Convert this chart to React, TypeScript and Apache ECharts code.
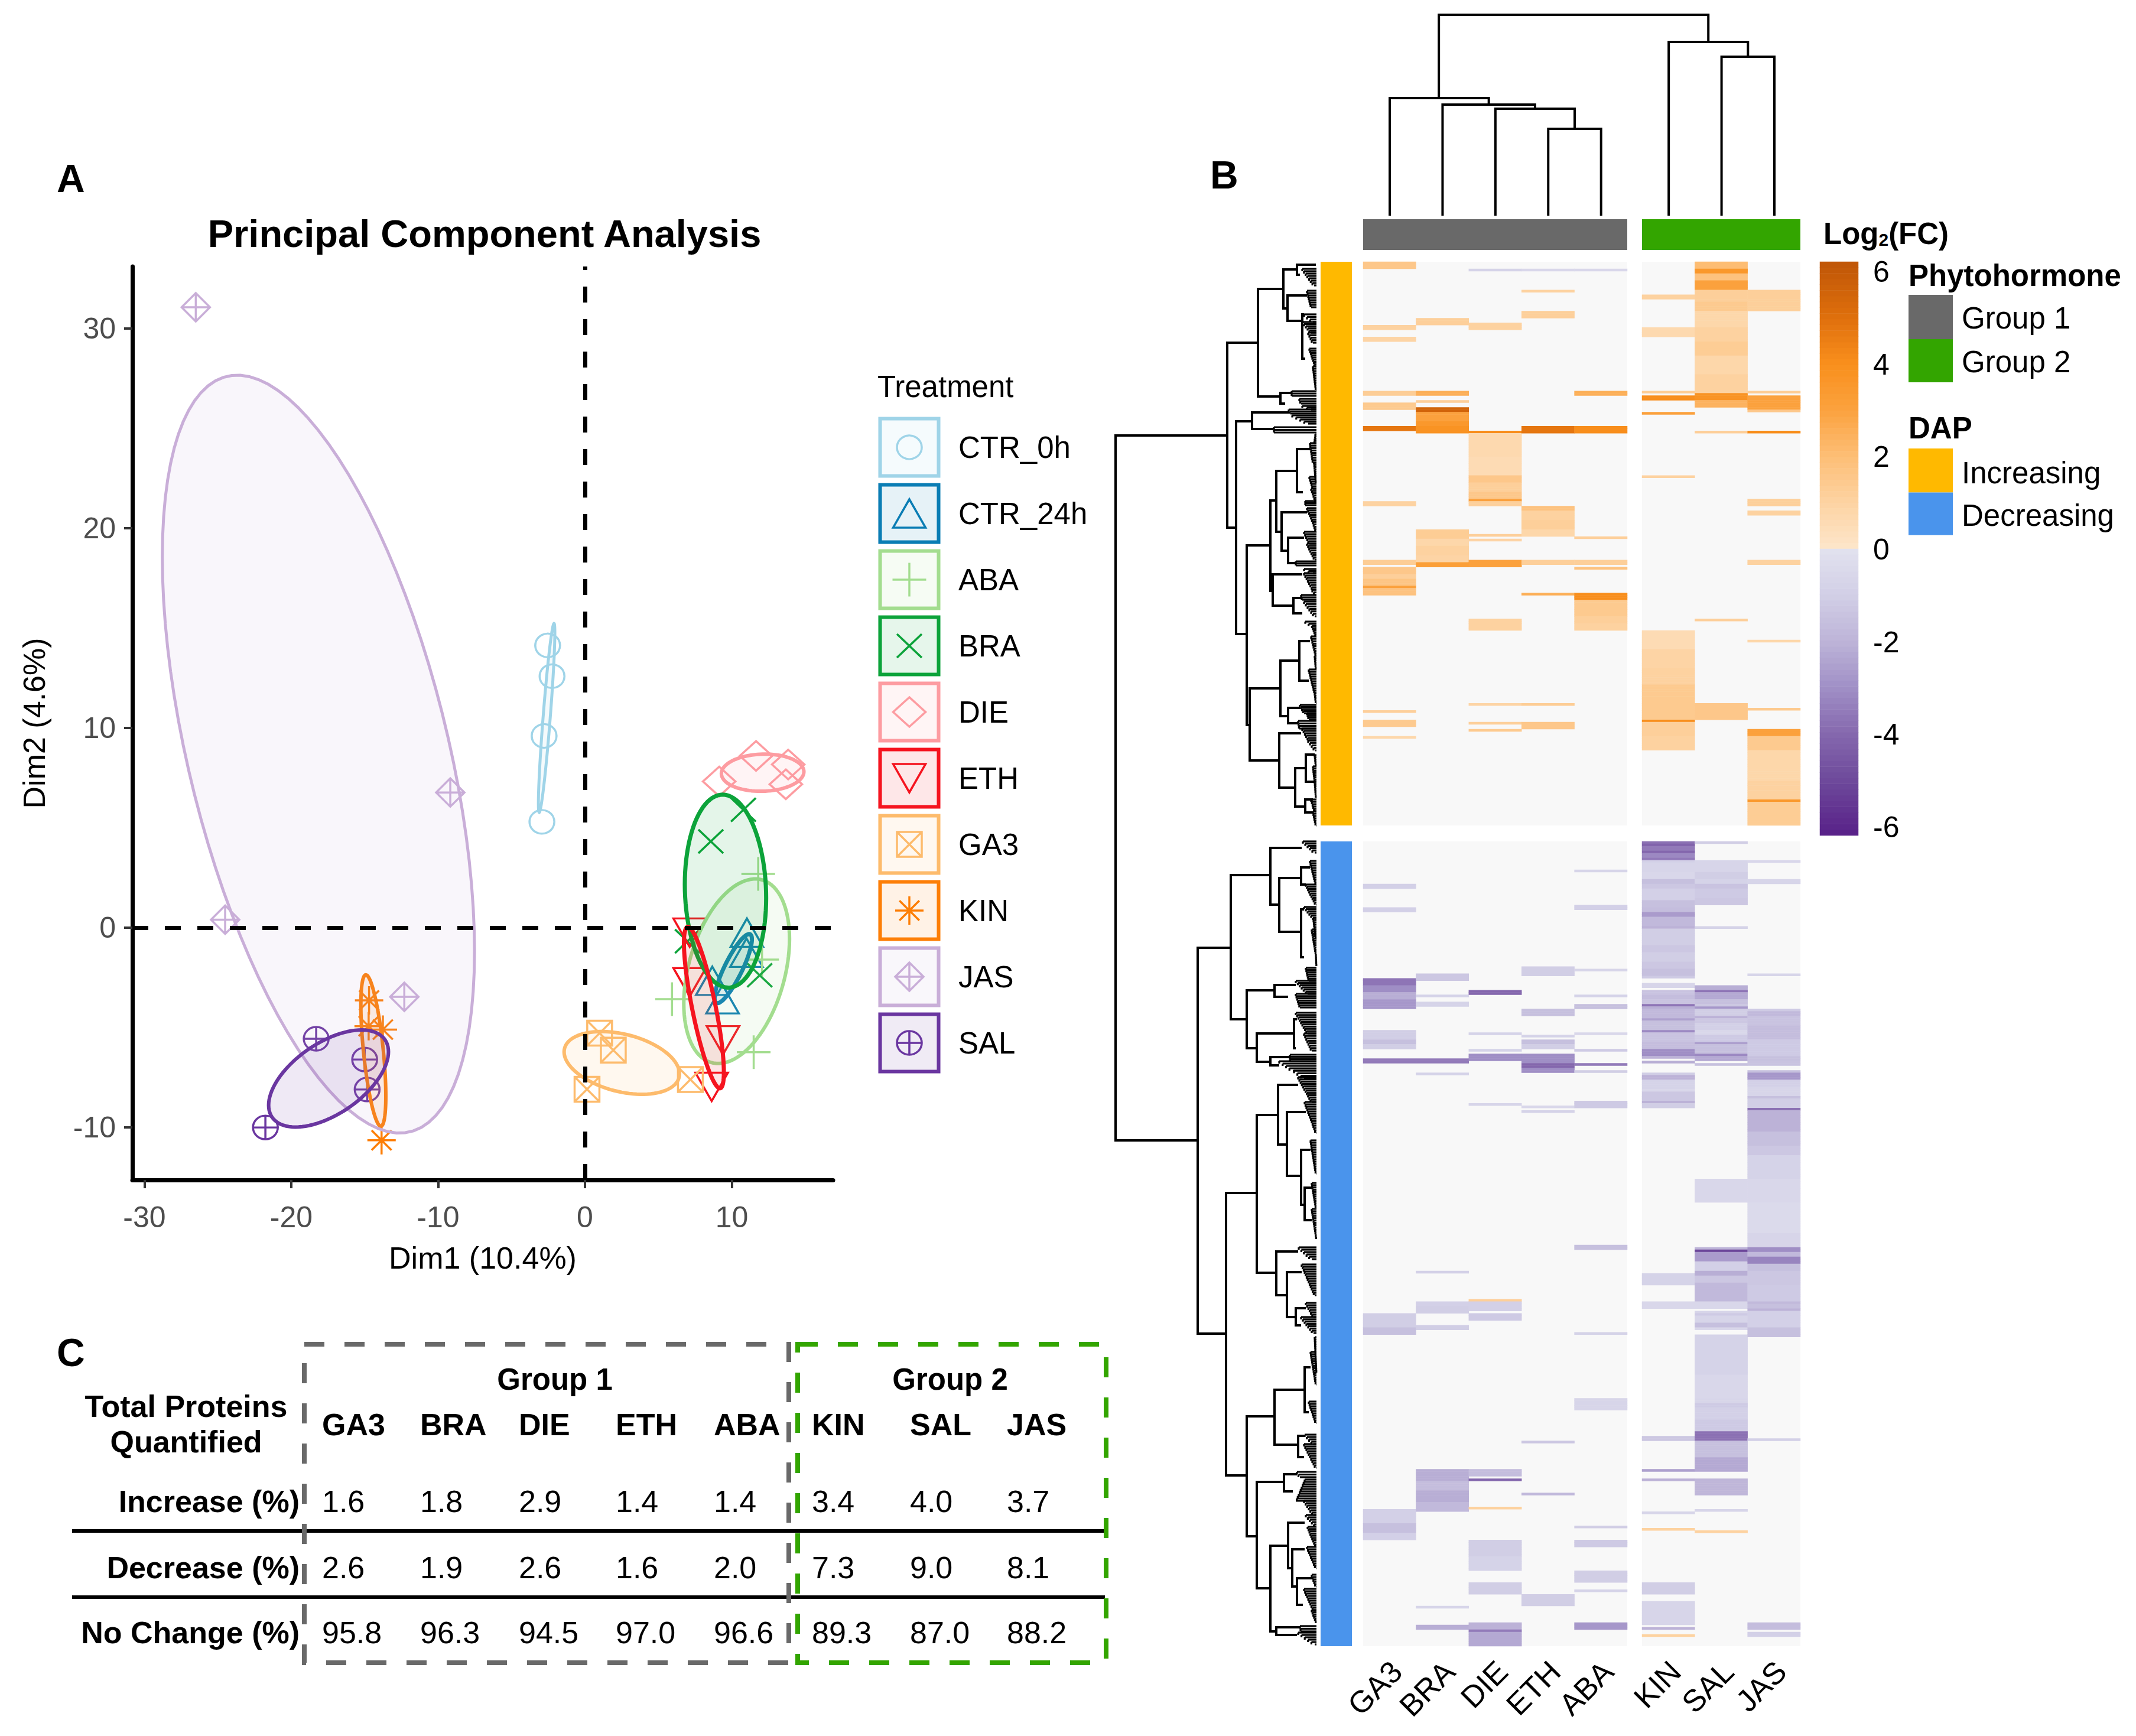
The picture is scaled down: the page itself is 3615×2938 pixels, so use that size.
import React, { useEffect, useRef } from "react";
import * as echarts from "echarts";

const FONT = "Liberation Sans";
const treatments = ["CTR_0h", "CTR_24h", "ABA", "BRA", "DIE", "ETH", "GA3", "KIN", "JAS", "SAL"];
const treatColors = ["#9fd4e8", "#0a7db4", "#a3dd8f", "#0ca33a", "#fd9ca1", "#f5141f", "#fdbb6c", "#fd7e06", "#c9aed8", "#6a36a0"];
const symbolPaths = [
  "circle",
  "path://M0,-50L50,50L-50,50Z",
  "path://M-50,0L50,0M0,-50L0,50",
  "path://M-50,-50L50,50M-50,50L50,-50",
  "path://M0,-50L50,0L0,50L-50,0Z",
  "path://M-50,-50L50,-50L0,50Z",
  "path://M-50,-50L50,-50L50,50L-50,50ZM-50,-50L50,50M-50,50L50,-50",
  "path://M-50,0L50,0M0,-50L0,50M-35,-35L35,35M-35,35L35,-35",
  "path://M0,-50L50,0L0,50L-50,0ZM-50,0L50,0M0,-50L0,50",
  "path://M-50,0A50,50 0 1 1 50,0A50,50 0 1 1 -50,0ZM-50,0L50,0M0,-50L0,50",
];
const symbolSizes = [[42, 40], [55, 48], [57, 57], [42, 40], [55, 50], [55, 48], [42, 42], [48, 48], [48, 48], [42, 40]];
const ellipseWidths = [5, 7, 6, 7, 6, 7, 6, 6, 5, 6];

// PCA points (Dim1, Dim2)
const ctr0Points = [[-2.54, 14.13], [-2.24, 12.59], [-2.78, 9.6], [-2.93, 5.3]];
const ctr24Points = [[11.03, -0.25], [11, -1.25], [8.67, -2.66], [9.37, -3.58]];
const abaPoints = [[11.8, 2.69], [12.06, -1.6], [5.93, -3.58], [11.49, -6.23]];
const braPoints = [[10.79, 5.9], [8.57, 4.32], [6.98, -0.68], [11.9, -2.38]];
const diePoints = [[11.65, 8.6], [13.84, 8.17], [13.68, 7.18], [9.14, 7.32]];
const ethPoints = [[7.13, -0.25], [7.13, -2.73], [9.4, -5.64], [8.63, -7.97]];
const ga3Points = [[1.0, -5.28], [1.93, -6.13], [0.14, -8.09], [7.18, -7.6]];
const kinPoints = [[-14.7, -3.64], [-14.73, -4.93], [-13.76, -5.1], [-13.85, -10.64]];
const jasPoints = [[-26.5, 31.06], [-9.17, 6.77], [-24.5, 0.4], [-12.3, -3.46]];
const salPoints = [[-18.3, -5.56], [-15, -6.6], [-14.83, -8.1], [-21.76, -10.0]];
const allPoints = [ctr0Points, ctr24Points, abaPoints, braPoints, diePoints, ethPoints, ga3Points, kinPoints, jasPoints, salPoints];
// confidence ellipses: centre x, centre y, half width, half height, correlation
const ellipses = [
  [-2.61, 10.5, 0.56, 4.73, 0.9],
  [10.1, -2.05, 1.27, 1.73, 0.85],
  [10.33, -2.18, 3.6, 4.62, 0.35],
  [9.57, 1.83, 2.77, 4.83, -0.07],
  [12.1, 7.76, 2.81, 0.93, 0.05],
  [8.1, -4.0, 1.36, 4.04, -0.8],
  [2.51, -6.77, 3.93, 1.57, -0.35],
  [-14.41, -6.15, 0.85, 3.79, -0.6],
  [-18.15, 8.69, 10.63, 18.97, -0.52],
  [-17.46, -7.55, 4.08, 2.43, 0.55],
];

// Heatmap runs: first row, last row, log2 fold change
const groupOneCols = ["GA3", "BRA", "DIE", "ETH", "ABA"];
const groupTwoCols = ["KIN", "SAL", "JAS"];
const ga3Up = [[0,2,1.5],[27,28,1],[32,33,.9],[55,56,1.3],[60,62,1.4],[70,71,4.8],[102,103,1],[127,128,1.3],[130,132,1.5],[133,134,1.2],[135,137,1.7],[138,138,3],[139,141,1.8],[191,191,1.2],[195,197,1.4],[202,202,.8]];
const braUp = [[24,26,1.2],[55,56,2.5],[59,59,1.2],[62,63,5.5],[64,67,3],[68,69,3.5],[70,72,3.8],[114,117,1.3],[118,120,.8],[121,124,1],[125,127,.9],[128,129,3.2]];
const dieUp = [[3,3,-.8],[26,28,1],[72,72,4],[73,82,.7],[83,90,.6],[91,93,1.6],[94,97,1.2],[98,100,1.5],[101,101,3],[102,103,1.2],[116,116,1.2],[118,118,.9],[127,129,3],[152,156,1.1],[188,188,.9],[196,196,1.2],[199,199,1.4]];
const ethUp = [[3,3,-.5],[12,12,1],[21,23,1.2],[70,72,4.8],[104,105,1.8],[106,109,1],[110,113,1.2],[114,116,.8],[127,128,1.2],[141,141,2.5],[188,188,1.3],[196,198,1.6]];
const abaUp = [[3,3,-.5],[55,56,2.5],[70,72,4],[117,117,1.2],[127,128,1.2],[130,130,1.8],[141,143,4],[144,150,1.4],[151,153,1.2],[154,156,1],];
const kinUp = [[14,15,1],[28,31,.7],[55,55,1.3],[57,58,4],[64,64,3],[91,91,1],[157,164,.6],[165,172,.9],[173,179,1.1],[180,194,1.4],[195,195,4],[196,201,1.2],[202,207,1.1]];
const salUp = [[0,3,2],[3,4,3.5],[5,7,1.8],[8,11,3],[12,16,1.2],[17,20,1.4],[21,27,.8],[28,33,1],[34,39,1.3],[40,47,.8],[48,55,1],[56,58,3.8],[59,61,2.4],[72,72,1.2],[152,152,1.2],[188,194,1.6]];
const jasUp = [[12,20,1.2],[55,55,1.3],[57,62,3],[63,63,1.5],[72,72,4],[101,103,1.2],[106,107,1],[127,128,1],[161,161,.8],[190,190,1.4],[199,201,3],[202,207,1.4],[208,220,.8],[221,228,1],[229,229,3.5],[230,239,1.3]];
const ga3Down = [[18,19,-.9],[28,29,-.9],[58,60,-3.7],[61,63,-3],[64,66,-2.2],[67,70,-2.8],[80,83,-1.1],[84,85,-1.6],[86,87,-1.1],[92,93,-3.5],[200,205,-1],[206,208,-1.5],[283,288,-.9],[289,292,-1.5],[293,295,-.9]];
const braDown = [[56,58,-1.3],[65,65,-.8],[68,69,-.8],[92,93,-3.5],[98,98,-.8],[182,182,-.9],[195,196,-.9],[197,199,-1.1],[205,206,-1.1],[266,270,-2.2],[271,274,-1.7],[275,279,-2.2],[280,283,-1.8],[324,324,-.7],[332,333,-2.2]];
const dieDown = [[63,64,-4],[81,81,-.8],[88,88,-.8],[90,92,-3],[111,111,-.7],[194,194,1.2],[195,198,-.9],[200,202,-1.2],[266,268,-1.7],[270,270,-4],[282,282,1.1],[296,302,-1],[303,308,-.8],[314,318,-1.1],[331,333,-2],[334,334,-3.5],[335,340,-2.3]];
const ethDown = [[53,56,-1],[71,73,-1.5],[82,82,-.8],[84,85,-1.5],[86,87,-1],[90,93,-3],[94,95,-4],[96,97,-3],[112,112,-.6],[114,114,-.8],[254,254,-1.3],[276,276,-1.8],[319,323,-1]];
const abaDown = [[12,12,-.7],[27,28,-.9],[54,54,-.7],[65,65,-.8],[69,70,-1.6],[81,81,-.6],[88,88,-1.2],[94,94,-3.5],[97,97,-1],[110,112,-1.2],[171,172,-1.6],[208,208,-.8],[236,240,-.7],[290,290,-1],[296,298,-1.2],[309,313,-1.1],[317,317,-.8],[331,333,-2.8]];
const kinDown = [[0,0,-3.8],[1,1,-4.2],[2,3,-3.5],[4,4,-4],[5,6,-3.2],[7,7,-3.5],[8,8,-.9],[9,12,-.7],[13,15,-.5],[16,17,-1.6],[18,19,-1.3],[20,24,-.9],[25,27,-1.5],[28,29,-1.7],[30,31,-2.7],[32,35,-1.8],[36,36,-2],[37,40,-1],[41,43,-1.1],[44,46,-1.3],[47,50,-1.1],[51,53,-1.3],[54,56,-1.6],[57,57,-1.2],[60,61,-.7],[63,64,-1.4],[65,66,-1.7],[67,68,-1.4],[69,69,-3.6],[70,70,-2.2],[71,74,-1.8],[75,75,-2.6],[76,79,-1.6],[80,80,-3.2],[81,84,-1.4],[85,87,-1.7],[88,90,-3],[91,91,-2],[93,93,-2.2],[98,98,-1],[99,100,-2],[101,104,-.8],[105,105,-.6],[106,109,-1.3],[110,110,-2],[111,112,-1],[183,187,-.8],[195,197,-.6],[252,253,-1.3],[266,266,-2.5],[270,270,-2],[284,284,-.7],[291,291,1.1],[314,318,-1],[322,331,-.7],[333,333,-2],[336,336,1]];
const salDown = [[0,0,-1],[8,12,-.7],[13,15,-1.1],[16,17,-.8],[18,19,-1.4],[20,23,-1.2],[24,26,-1.3],[36,36,-.8],[61,62,-2.2],[63,63,-3.6],[64,66,-2.3],[67,68,-1.5],[69,69,-1.3],[70,70,-2.8],[71,73,-1],[74,74,-2],[75,76,-1.3],[77,79,-.9],[80,81,-.6],[82,84,-1.2],[85,85,-2.5],[86,89,-1.6],[90,90,-3.2],[91,92,-2.3],[94,94,-1.5],[143,152,-.55],[172,172,-2],[173,173,-5.2],[174,177,-2.7],[178,181,-.9],[182,183,-2.2],[184,186,-1.3],[187,194,-1.8],[195,197,-.6],[199,199,-.7],[200,200,-1.2],[201,203,-.7],[204,205,-1.5],[206,206,-.6],[209,225,-.8],[226,235,-.6],[236,237,-.7],[238,239,-1.2],[240,244,-.9],[245,249,-1.2],[250,253,-3.8],[254,260,-1.6],[261,266,-2.3],[270,276,-1.9],[283,283,-.7],[292,292,1]];
const jasDown = [[8,8,-.6],[16,17,-.7],[56,56,-.7],[71,71,-1.2],[72,73,-1.8],[74,77,-1.4],[78,83,-1.7],[84,90,-1.2],[91,92,-1.5],[93,94,-1.4],[97,97,-1.6],[98,100,-2.8],[101,103,-.9],[104,107,-.7],[108,108,-1.6],[109,112,-1.1],[113,113,-3.8],[114,122,-2],[123,128,-1.5],[129,132,-1.3],[133,142,-.8],[143,152,-.6],[153,165,-.45],[166,171,-.7],[172,173,-3],[174,175,-1.8],[176,178,-3.3],[179,181,-1.6],[182,187,-1.3],[188,194,-1.2],[195,195,-1.8],[196,197,-1.5],[198,198,-2],[199,205,-.9],[206,209,-1.6],[253,253,-.9],[331,333,-1.7],[335,336,-.9]];
const TOP_ROW_COUNT = 240;
const BOTTOM_ROW_COUNT = 341;

// Colour scale stops: value, colour
const positiveStops: [number, string][] = [[0, "#fde6cb"], [1, "#fdd3a2"], [2, "#fdbe76"], [3, "#fba23e"], [4, "#f98f1c"], [5, "#df6f0c"], [6.2, "#bf5607"]];
const negativeStops: [number, string][] = [[0, "#e2e2ee"], [1, "#d2cfe6"], [2, "#bdb4d8"], [3, "#a08fc6"], [4, "#8568ae"], [5, "#6e4a9b"], [6.2, "#582088"]];

// Column dendrogram: x1, x2, merge height, left child height, right child height
const colMerges = [
  [3, 4, 147, 0, 0], [2, 3.5, 181, 0, 147], [1, 2.75, 188, 0, 181], [0, 1.875, 199, 0, 188],
  [6.28, 7.28, 269, 0, 0], [5.28, 6.78, 294, 0, 269], [0.93, 6.03, 340, 199, 294],
];
// Row dendrogram branches: height, position 1, position 2, child height 1, child height 2
const rowBranches = [
  [340,294,1487,152,203],[151,137,450,101,136],[99,46,228,56,61],[56,13,79,33,49],[33,5,22,1,28],[49,57,100,16,24],[24,89,164,21,19],[61,222,240,43,53],
  [136,270,630,109,118],[109,255,283,46,73],[118,480,784,78,113],[78,404,557,68,74],[68,354,457,33,59],[33,317,390,11,23],[59,424,489,16,48],[48,467,510,21,34],
  [74,529,582,24,39],[39,569,595,26,24],[113,722,844,63,63],[61,675,769,29,48],[29,642,709,11,13],[48,755,781,28,31],[63,798,890,26,36],[36,857,922,18,19],[18,834,880,3,3],[19,910,932,6,6],
  [201,1161,1814,146,155],[145,1038,1282,78,118],[78,992,1088,25,63],[63,1043,1134,26,28],[26,1025,1054,11,18],[26,1096,1177,21,21],[118,1233,1331,71,101],[71,1224,1244,35,48],
  [101,1306,1354,38,78],[78,1346,1360,45,63],[38,1282,1331,33,35],[153,1576,2054,101,118],[101,1444,1711,65,68],[65,1393,1494,31,50],[50,1439,1547,18,26],[26,1503,1596,10,20],[20,1567,1622,6,8],
  [68,1675,1749,31,50],[50,1710,1786,25,35],[35,1771,1800,18,26],[118,1954,2157,71,101],[71,1909,2002,20,31],[20,1871,1947,10,13],[31,1987,2023,20,21],
  [101,2065,2245,55,78],[55,2052,2081,33,40],[78,2173,2318,48,68],[48,2134,2211,20,41],[41,2179,2242,20,33],[33,2228,2273,6,23],[68,2311,2324,28,33],
];
// Leaf clades: first position, last position, height at first, height at last
const rowClades = [
  [12,40,24,4],[49,77,16,9],[89,102,21,6],[102,120,24,9],[120,137,14,6],[147,177,12,2],[177,217,6,1],[219,227,42,42],[232,240,29,26],[244,250,24,9],[250,257,47,44],[260,274,41,14],[280,289,72,72],
  [292,307,2,4],[307,340,11,6],[340,374,4,1],[364,384,12,6],[384,407,9,1],[405,412,19,19],[417,440,16,6],[440,457,6,1],[457,477,21,12],[477,504,16,3],[507,514,35,35],[520,527,21,6],[527,555,21,6],
  [555,564,7,2],[564,572,26,24],[575,600,21,3],[609,620,19,2],[620,634,6,1],[634,667,9,1],[667,690,3,1],[690,730,13,3],[730,747,3,1],[750,764,28,21],[764,774,16,13],[777,790,31,29],[790,810,24,13],
  [810,827,14,2],[835,854,3,1],[854,880,6,3],[880,907,3,1],[910,930,9,3],[930,954,6,1],
  [981,1000,23,3],[1014,1054,11,1],[1054,1088,18,1],[1092,1114,21,3],[1114,1146,5,1],[1130,1172,8,1],[1172,1192,1,0],[1195,1217,18,13],[1217,1239,35,15],[1239,1262,35,28],[1271,1306,35,15],[1306,1335,21,8],
  [1342,1353,45,45],[1353,1369,63,40],[1369,1382,38,21],[1380,1422,31,8],[1422,1454,20,8],[1454,1474,8,1],[1487,1543,10,1],[1559,1601,8,1],[1603,1654,8,0],[1668,1688,30,8],[1697,1749,25,3],[1762,1786,18,5],
  [1786,1813,26,5],[1820,1880,3,0],[1845,1900,10,1],[1929,1965,13,1],[1985,2001,20,5],[2001,2041,21,1],[2048,2057,33,28],[2061,2097,20,35],[2097,2121,21,5],[2121,2141,18,1],[2141,2175,15,1],[2175,2211,16,1],
  [2222,2242,8,1],[2246,2282,21,5],[2282,2304,8,0],[2309,2318,28,26],[2320,2340,31,3],
];

// Table C
const tableCols = ["GA3", "BRA", "DIE", "ETH", "ABA", "KIN", "SAL", "JAS"];
const tableRowNames = ["Increase (%)", "Decrease (%)", "No Change (%)"];
const increaseRow = ["1.6", "1.8", "2.9", "1.4", "1.4", "3.4", "4.0", "3.7"];
const decreaseRow = ["2.6", "1.9", "2.6", "1.6", "2.0", "7.3", "9.0", "8.1"];
const noChangeRow = ["95.8", "96.3", "94.5", "97.0", "96.6", "89.3", "87.0", "88.2"];

function hexToRgb(h: string) {
  return [1, 3, 5].map((i) => parseInt(h.slice(i, i + 2), 16));
}
function colorOf(v: number) {
  const stops = v >= 0 ? positiveStops : negativeStops;
  const a = Math.abs(v);
  for (let i = 1; i < stops.length; i++) {
    if (a <= stops[i][0]) {
      const f = (a - stops[i - 1][0]) / (stops[i][0] - stops[i - 1][0]);
      const p = hexToRgb(stops[i - 1][1]);
      const q = hexToRgb(stops[i][1]);
      return `rgb(${p.map((c, k) => Math.round(c + (q[k] - c) * f)).join(",")})`;
    }
  }
  return stops[stops.length - 1][1];
}
function cells(columns: number[][][]) {
  const out: number[][] = [];
  columns.forEach((runs, c) => runs.forEach(([a, b, v]) => {
    for (let r = a; r <= b; r++) out.push([c, r, v]);
  }));
  return out;
}
function alpha(hex: string, a: number) {
  const [r, g, b] = hexToRgb(hex);
  return `rgba(${r},${g},${b},${a})`;
}
function label(x: number, y: number, text: string, size = 50, weight: any = "normal", align = "left") {
  return {
    type: "text", x, y, silent: true,
    style: { text, fontSize: size, fontFamily: FONT, fontWeight: weight, fill: "#000", textAlign: align, textVerticalAlign: "middle", align, verticalAlign: "middle" },
  };
}
function rect(x: number, y: number, w: number, h: number, fill: string) {
  return { type: "rect", silent: true, shape: { x, y, width: w, height: h }, style: { fill } };
}

function buildOption() {
  const LEVELS = 100;
  const levelValues = Array.from({ length: LEVELS }, (_, i) => -6.2 + ((i + 0.5) * 12.4) / LEVELS);
  const pieces = levelValues.map((v) => ({ min: v - 6.2 / LEVELS, max: v + 6.2 / LEVELS, color: colorOf(v) }));

  const hiddenCat = (gridIndex: number, data: any[], inverse = false) => ({ type: "category", gridIndex, data, show: false, inverse });
  const topRows = Array.from({ length: TOP_ROW_COUNT }, (_, i) => i);
  const botRows = Array.from({ length: BOTTOM_ROW_COUNT }, (_, i) => i);
  const bottomLabelled = (gridIndex: number, data: string[]) => ({
    type: "category", gridIndex, data,
    axisLine: { show: false }, axisTick: { show: false },
    axisLabel: { interval: 0, rotate: 45, fontSize: 52, fontFamily: FONT, color: "#000", margin: 34 },
  });
  const blank = (gridIndex: number, min: number, max: number, inverse = false) => ({ type: "value", gridIndex, min, max, inverse, show: false });

  const grid = [
    { left: 224, width: 1186, top: 451, height: 1546 },
    { left: 1489, width: 100, top: 701, height: 1120 },
    { left: 2307, width: 447, top: 443, height: 954, show: true, backgroundColor: "#f8f8f8", borderWidth: 0 },
    { left: 2779, width: 268, top: 443, height: 954, show: true, backgroundColor: "#f8f8f8", borderWidth: 0 },
    { left: 2307, width: 447, top: 1424, height: 1362, show: true, backgroundColor: "#f8f8f8", borderWidth: 0 },
    { left: 2779, width: 268, top: 1424, height: 1362, show: true, backgroundColor: "#f8f8f8", borderWidth: 0 },
    { left: 3080, width: 65, top: 443, height: 971 },
    { left: 3080, width: 65, top: 460, height: 940 },
    { left: 2352, width: 651, top: 25, height: 340 },
    { left: 1880, width: 348, top: 443, height: 2343 },
    // label strips below the heat map
    { left: 2319, width: 447, top: 2785, height: 1 },
    { left: 2791, width: 268, top: 2785, height: 1 },
  ];
  const xAxis = [
    {
      type: "value", gridIndex: 0, min: -30.82, max: 16.9, splitLine: { show: false },
      axisLine: { onZero: false, lineStyle: { color: "#000", width: 7 } },
      axisTick: { length: 14, lineStyle: { color: "#333", width: 4 }, customValues: [-30, -20, -10, 0, 10] },
      axisLabel: { fontSize: 50, fontFamily: FONT, color: "#4d4d4d", margin: 38, customValues: [-30, -20, -10, 0, 10] },
      name: "Dim1 (10.4%)", nameLocation: "middle", nameGap: 106, nameTextStyle: { fontSize: 52, fontFamily: FONT, color: "#000" },
    },
    blank(1, 0, 1),
    hiddenCat(2, groupOneCols), hiddenCat(3, groupTwoCols),
    hiddenCat(4, groupOneCols), hiddenCat(5, groupTwoCols),
    hiddenCat(6, ["scale"]),
    blank(7, 0, 1),
    blank(8, 0, 7.28),
    blank(9, 0, 348, true),
    bottomLabelled(10, groupOneCols), bottomLabelled(11, groupTwoCols),
  ];
  const yAxis = [
    {
      type: "value", gridIndex: 0, min: -12.63, max: 33.1, splitLine: { show: false },
      axisLine: { onZero: false, lineStyle: { color: "#000", width: 7 } },
      axisTick: { length: 14, lineStyle: { color: "#333", width: 4 }, customValues: [-10, 0, 10, 20, 30] },
      axisLabel: { fontSize: 50, fontFamily: FONT, color: "#4d4d4d", margin: 28, customValues: [-10, 0, 10, 20, 30] },
      name: "Dim2 (4.6%)", nameLocation: "middle", nameGap: 140, nameTextStyle: { fontSize: 52, fontFamily: FONT, color: "#000" },
    },
    {
      type: "category", gridIndex: 1, data: treatments, inverse: true, position: "right",
      axisLine: { show: false }, axisTick: { show: false },
      axisLabel: { fontSize: 51, fontFamily: FONT, color: "#000", margin: 33 },
    },
    hiddenCat(2, topRows, true), hiddenCat(3, topRows, true),
    hiddenCat(4, botRows, true), hiddenCat(5, botRows, true),
    hiddenCat(6, levelValues),
    {
      type: "value", gridIndex: 7, min: -6, max: 6, interval: 2, position: "right",
      splitLine: { show: false }, axisLine: { show: false }, axisTick: { show: false },
      axisLabel: { fontSize: 50, fontFamily: FONT, color: "#000", margin: 25 },
    },
    blank(8, 0, 340),
    blank(9, 0, 2343, true),
    blank(10, 0, 1), blank(11, 0, 1),
  ];

  const series: any[] = [];
  series.push({
    type: "line", name: "zero", xAxisIndex: 0, yAxisIndex: 0, data: [], silent: true,
    markLine: {
      silent: true, symbol: "none", label: { show: false },
      lineStyle: { type: [27, 28], color: "#000", width: 7 },
      data: [{ xAxis: 0 }, { yAxis: 0 }],
    },
  });
  treatments.forEach((name, i) => {
    series.push({
      type: "scatter", xAxisIndex: 1, yAxisIndex: 1, symbol: "rect", symbolSize: [99, 97], silent: true, z: 1,
      itemStyle: { color: alpha(treatColors[i], 0.1), borderColor: treatColors[i], borderWidth: 6, opacity: 1 },
      data: [[0.5, name]],
    });
    series.push({
      type: "scatter", name, xAxisIndex: 1, yAxisIndex: 1, symbol: symbolPaths[i], symbolSize: symbolSizes[i], silent: true, z: 2,
      itemStyle: { color: "rgba(0,0,0,0)", borderColor: treatColors[i], borderWidth: 3.5, opacity: 1 },
      data: [[0.5, name]],
    });
  });
  treatments.forEach((name, i) => {
    series.push({
      type: "scatter", name, xAxisIndex: 0, yAxisIndex: 0, symbol: symbolPaths[i], symbolSize: symbolSizes[i], silent: true, z: 3,
      itemStyle: { color: "rgba(0,0,0,0)", borderColor: treatColors[i], borderWidth: 3.5, opacity: 1 },
      data: allPoints[i],
    });
  });
  treatments.forEach((name, i) => {
    series.push({
      type: "custom", name: name + " ellipse", xAxisIndex: 0, yAxisIndex: 0, silent: true, z: 4,
      data: [ellipses[i]], encode: { x: 0, y: 1 },
      renderItem: (_: any, api: any) => {
        const [cx, cy, hw, hh, r] = [0, 1, 2, 3, 4].map((k) => api.value(k));
        const points: number[][] = [];
        for (let t = 0; t < 96; t++) {
          const a = (t / 96) * Math.PI * 2;
          points.push(api.coord([cx + hw * Math.cos(a), cy + hh * (r * Math.cos(a) + Math.sqrt(1 - r * r) * Math.sin(a))]));
        }
        return { type: "polygon", shape: { points }, style: { fill: alpha(treatColors[i], 0.11), stroke: treatColors[i], lineWidth: ellipseWidths[i] } };
      },
    });
  });
  const heatSeriesIndex: number[] = [];
  const addHeat = (idx: number, data: number[][], name: string) => {
    heatSeriesIndex.push(series.length);
    series.push({ type: "heatmap", name, xAxisIndex: idx, yAxisIndex: idx, data, silent: true, progressive: 0, emphasis: { disabled: true } });
  };
  addHeat(2, cells([ga3Up, braUp, dieUp, ethUp, abaUp]), "Increasing, Group 1");
  addHeat(3, cells([kinUp, salUp, jasUp]), "Increasing, Group 2");
  addHeat(4, cells([ga3Down, braDown, dieDown, ethDown, abaDown]), "Decreasing, Group 1");
  addHeat(5, cells([kinDown, salDown, jasDown]), "Decreasing, Group 2");
  addHeat(6, levelValues.map((v, i) => [0, i, v]), "Log2(FC) scale");
  series.push({ type: "line", xAxisIndex: 7, yAxisIndex: 7, data: [], silent: true });
  series.push({
    type: "custom", name: "column dendrogram", xAxisIndex: 8, yAxisIndex: 8, silent: true, data: colMerges, encode: { x: 0, y: 2 },
    renderItem: (_: any, api: any) => {
      const [a, b, h, ha, hb] = [0, 1, 2, 3, 4].map((k) => api.value(k));
      return { type: "polyline", shape: { points: [api.coord([a, ha]), api.coord([a, h]), api.coord([b, h]), api.coord([b, hb])] }, style: { fill: "none", stroke: "#000", lineWidth: 4 } };
    },
  });
  series.push({
    type: "custom", name: "row dendrogram", xAxisIndex: 9, yAxisIndex: 9, silent: true, data: rowBranches, encode: { x: 0, y: 1 },
    renderItem: (_: any, api: any) => {
      const [h, a, b, ha, hb] = [0, 1, 2, 3, 4].map((k) => api.value(k));
      return { type: "polyline", shape: { points: [api.coord([ha, a]), api.coord([h, a]), api.coord([h, b]), api.coord([hb, b])] }, style: { fill: "none", stroke: "#000", lineWidth: 4 } };
    },
  });
  series.push({
    type: "custom", name: "row dendrogram leaves", xAxisIndex: 9, yAxisIndex: 9, silent: true, data: rowClades, encode: { x: 2, y: 0 },
    renderItem: (_: any, api: any) => {
      const [a, b, ha, hb] = [0, 1, 2, 3].map((k) => api.value(k));
      const children: any[] = [];
      const n = Math.max(1, Math.round((b - a) / 4));
      const endX = api.coord([0, a])[0];
      for (let j = 0; j <= n; j++) {
        const p = api.coord([ha + ((hb - ha) * j) / n, a + ((b - a) * j) / n]);
        children.push({ type: "line", shape: { x1: p[0], y1: p[1], x2: endX, y2: p[1] }, style: { stroke: "#000", lineWidth: 3.2 } });
        if (j < n) {
          const q = api.coord([ha + ((hb - ha) * j) / n, a + ((b - a) * (j + 1)) / n]);
          children.push({ type: "line", shape: { x1: p[0], y1: p[1], x2: q[0], y2: q[1] }, style: { stroke: "#000", lineWidth: 3.2 } });
        }
      }
      return { type: "group", children };
    },
  });

  const G1 = "#696969";
  const G2 = "#33a500";
  const YEL = "#ffb900";
  const BLU = "#4a94ec";
  const tableX = [545, 711, 878, 1042, 1208, 1374, 1540, 1704];
  const rowY = [2541, 2653, 2763];
  const graphics: any[] = [
    label(96, 302, "A", 66, "bold"),
    label(2048, 296, "B", 66, "bold"),
    label(96, 2289, "C", 66, "bold"),
    rect(2235, 443, 53, 954, YEL),
    rect(2235, 1424, 53, 1362, BLU),
    rect(2307, 371, 447, 52, G1),
    rect(2779, 371, 268, 52, G2),
    {
      type: "text", x: 3086, y: 395, silent: true,
      style: {
        text: "{a|Log}{b|2}{a|(FC)}", fontFamily: FONT, fontWeight: "bold", fontSize: 51, fill: "#000", textVerticalAlign: "middle", verticalAlign: "middle",
        rich: { a: { fontSize: 51, fontFamily: FONT, fontWeight: "bold", fill: "#000" }, b: { fontSize: 30, fontFamily: FONT, fontWeight: "bold", fill: "#000", padding: [20, 0, 0, 0] } },
      },
    },
    label(3230, 466, "Phytohormone", 51, "bold"),
    rect(3230, 499, 75, 75, G1),
    rect(3230, 574, 75, 73, G2),
    label(3320, 538, "Group 1", 51),
    label(3320, 612, "Group 2", 51),
    label(3230, 724, "DAP", 51, "bold"),
    rect(3230, 759, 75, 74.5, YEL),
    rect(3230, 833.5, 75, 72, BLU),
    label(3320, 800, "Increasing", 51),
    label(3320, 872, "Decreasing", 51),
    label(1485, 654, "Treatment", 51),
    { type: "rect", silent: true, z: 5, shape: { x: 515, y: 2275, width: 820, height: 539 }, style: { fill: "none", stroke: G1, lineWidth: 8, lineDash: [34, 34] } },
    { type: "rect", silent: true, z: 5, shape: { x: 1350, y: 2275, width: 522, height: 539 }, style: { fill: "none", stroke: G2, lineWidth: 8, lineDash: [34, 34] } },
    { type: "line", silent: true, z: 4, shape: { x1: 122, y1: 2591, x2: 1870, y2: 2591 }, style: { stroke: "#000", lineWidth: 6 } },
    { type: "line", silent: true, z: 4, shape: { x1: 122, y1: 2703, x2: 1870, y2: 2703 }, style: { stroke: "#000", lineWidth: 6 } },
    label(939, 2334, "Group 1", 51, "bold", "center"),
    label(1608, 2334, "Group 2", 51, "bold", "center"),
    label(315, 2380, "Total Proteins", 52, "bold", "center"),
    label(315, 2440, "Quantified", 52, "bold", "center"),
  ];
  tableCols.forEach((c, i) => graphics.push(label(tableX[i], 2411, c, 52, "bold")));
  tableRowNames.forEach((n, r) => graphics.push(label(507, rowY[r], n, 52, "bold", "right")));
  [increaseRow, decreaseRow, noChangeRow].forEach((row, r) => row.forEach((v, i) => graphics.push(label(tableX[i], rowY[r], v, 52))));

  return {
    animation: false,
    backgroundColor: "#fff",
    textStyle: { fontFamily: FONT },
    title: {
      text: "Principal Component Analysis", left: 815, top: 358, textAlign: "center",
      textStyle: { fontSize: 65, fontWeight: "bold", fontFamily: FONT, color: "#000" },
    },
    visualMap: { type: "piecewise", show: false, dimension: 2, seriesIndex: heatSeriesIndex, pieces },
    grid, xAxis, yAxis, series,
    graphic: { elements: graphics },
  };
}

export default function App() {
  const ref = useRef<HTMLDivElement>(null);
  useEffect(() => {
    const chart = echarts.init(ref.current!, undefined, { renderer: "svg" });
    chart.setOption(buildOption() as any);
    return () => chart.dispose();
  }, []);
  return <div ref={ref} style={{ position: "absolute", left: 0, top: 0, width: 3615, height: 2938, background: "#fff" }} />;
}
